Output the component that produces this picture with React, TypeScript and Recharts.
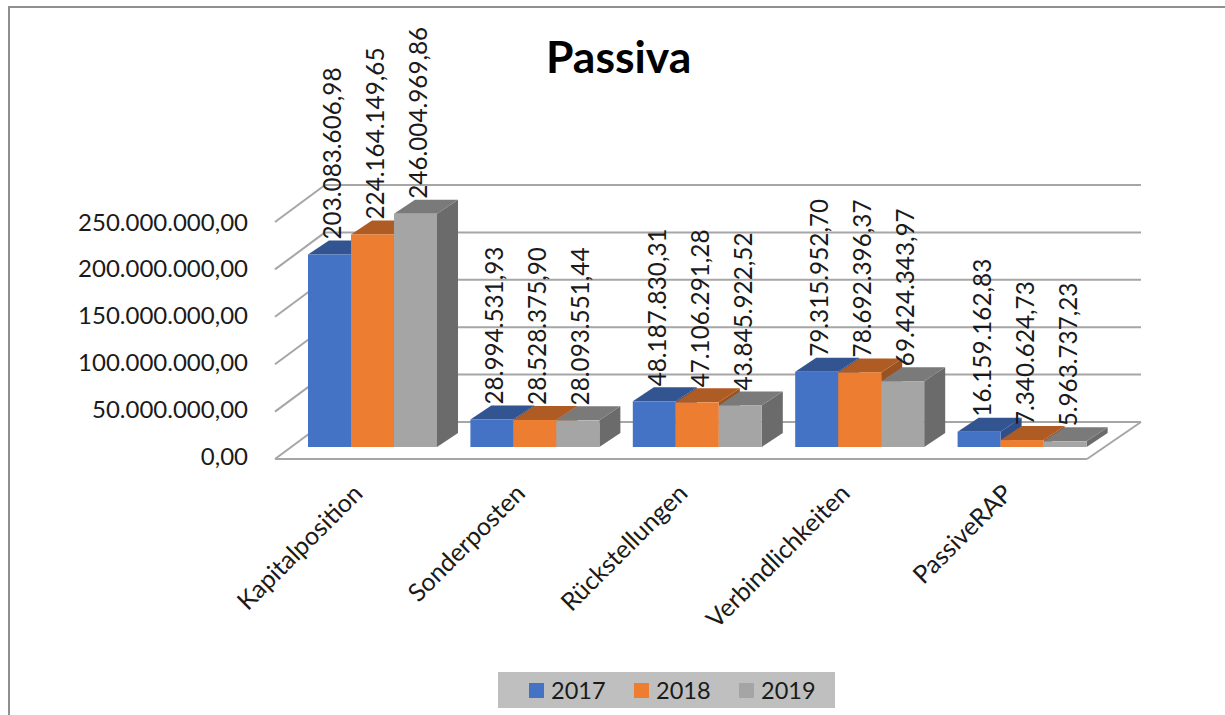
import React from 'react';
import { BarChart, Bar, XAxis, YAxis, CartesianGrid, Legend, LabelList } from 'recharts';

const categories = ['Kapitalposition', 'Sonderposten', 'Rückstellungen', 'Verbindlichkeiten', 'PassiveRAP'];
const values2017 = [203083606.98, 28994531.93, 48187830.31, 79315952.7, 16159162.83];
const values2018 = [224164149.65, 28528375.9, 47106291.28, 78692396.37, 7340624.73];
const values2019 = [246004969.86, 28093551.44, 43845922.52, 69424343.97, 5963737.23];
const yTicks = [0, 50000000, 100000000, 150000000, 200000000, 250000000];

const data = categories.map((name, i) => ({
  name,
  y2017: values2017[i],
  y2018: values2018[i],
  y2019: values2019[i],
}));

const FONT = 'Lato, sans-serif';
const TEXT = '#1a1a1a';
const GRID = '#a6a6a6';

// depth of the fake 3D bars
const DX = 21;
const DY = 14;

const money = (v: number) =>
  v.toLocaleString('de-DE', { minimumFractionDigits: 2, maximumFractionDigits: 2 });

const Bar3D = (colors: { front: string; top: string; side: string }) => (props: any) => {
  const { x, y, width, height } = props;
  return (
    <g>
      <polygon
        points={`${x + width},${y} ${x + width + DX},${y - DY} ${x + width + DX},${y + height - DY} ${x + width},${y + height}`}
        fill={colors.side}
      />
      <polygon
        points={`${x},${y} ${x + DX},${y - DY} ${x + width + DX},${y - DY} ${x + width},${y}`}
        fill={colors.top}
      />
      <rect x={x} y={y} width={width} height={height} fill={colors.front} />
    </g>
  );
};

const ValueLabel = (props: any) => {
  const { x, y, width, value } = props;
  const cx = x + width / 2 + 2;
  const cy = y - DY - 1;
  return (
    <text
      x={cx}
      y={cy}
      transform={`rotate(-90 ${cx} ${cy})`}
      dominantBaseline="central"
      fontFamily={FONT}
      fontSize={24.3}
      fill={TEXT}
    >
      {money(value)}
    </text>
  );
};

// back wall line plus the diagonal that runs to the front edge
const GridLine = (props: any) => {
  const { x1, x2, y1, index } = props;
  const left = x1 - 17;
  const back = y1 - 25;
  return (
    <g key={`grid-${index}`} stroke={GRID} strokeWidth={2} fill="none">
      <line x1={left} y1={y1 + 12} x2={left + 50} y2={back} />
      <line x1={left + 50} y1={back} x2={x2 + 37} y2={back} />
      {index === 0 && (
        <>
          <line x1={left} y1={y1 + 12} x2={x2 - 17} y2={y1 + 12} />
          <line x1={x2 - 17} y1={y1 + 12} x2={x2 + 37} y2={back} />
        </>
      )}
    </g>
  );
};

// the labels sit on the front edge, which is a bit more compressed than the bars
const YTick = (props: any) => {
  const { x, y, payload } = props;
  const labelY = 455 - (447 - y) * 0.9873;
  return (
    <text x={x} y={labelY} dominantBaseline="central" textAnchor="end" fontFamily={FONT} fontSize={24} fill={TEXT}>
      {money(payload.value)}
    </text>
  );
};

const XTick = (props: any) => {
  const { x, y, payload } = props;
  const tx = x - 9;
  const ty = y + 40;
  return (
    <text
      x={tx}
      y={ty}
      transform={`rotate(-45 ${tx} ${ty})`}
      textAnchor="end"
      fontFamily={FONT}
      fontSize={25}
      fill={TEXT}
    >
      {payload.value}
    </text>
  );
};

const LegendBox = ({ payload }: any) => (
  <div
    style={{
      background: '#bfbfbf',
      height: 36,
      display: 'flex',
      alignItems: 'center',
      paddingLeft: 31,
      fontFamily: FONT,
      fontSize: 23.5,
      color: TEXT,
    }}
  >
    {(payload || []).map((item: any) => (
      <div key={item.value} style={{ display: 'flex', alignItems: 'center', marginRight: 28.5 }}>
        <span style={{ width: 15, height: 15, background: item.color, marginRight: 7 }} />
        <span>{item.value}</span>
      </div>
    ))}
  </div>
);

export default function App() {
  return (
    <div style={{ position: 'absolute', left: 0, top: 0, width: 1225, height: 715, background: '#fff', overflow: 'hidden' }}>
      <div
        style={{
          position: 'absolute',
          left: 8,
          top: 6,
          width: 1300,
          height: 800,
          border: '2px solid #8f8f8f',
          boxSizing: 'border-box',
        }}
      />
      <div
        style={{
          position: 'absolute',
          left: 546,
          top: 31,
          fontFamily: FONT,
          fontWeight: 700,
          fontSize: 44.5,
          lineHeight: '50px',
          color: '#000',
        }}
      >
        Passiva
      </div>
      <BarChart
        width={1225}
        height={715}
        data={data}
        margin={{ top: 210, right: 121, bottom: 68, left: 0 }}
        barCategoryGap={16}
        barGap={0}
        style={{ position: 'absolute', left: 0, top: 0 }}
      >
        <CartesianGrid vertical={false} horizontal={GridLine} />
        <XAxis dataKey="name" height={200} axisLine={false} tickLine={false} tick={XTick} interval={0} />
        <YAxis
          width={292}
          domain={[0, 250000000]}
          ticks={yTicks}
          axisLine={false}
          tickLine={false}
          tick={(p: any) => <YTick {...p} x={248} />}
        />
        <Legend
          layout="horizontal"
          verticalAlign="middle"
          align="center"
          content={LegendBox}
          wrapperStyle={{ position: 'absolute', left: 498, top: 672, width: 337, height: 36, margin: 0 }}
        />
        <Bar
          dataKey="y2017"
          name="2017"
          fill="#4472C4"
          isAnimationActive={false}
          shape={Bar3D({ front: '#4472C4', top: '#325490', side: '#2e4f8a' })}
        >
          <LabelList dataKey="y2017" content={ValueLabel} />
        </Bar>
        <Bar
          dataKey="y2018"
          name="2018"
          fill="#ED7D31"
          isAnimationActive={false}
          shape={Bar3D({ front: '#ED7D31', top: '#AE5C24', side: '#9c5220' })}
        >
          <LabelList dataKey="y2018" content={ValueLabel} />
        </Bar>
        <Bar
          dataKey="y2019"
          name="2019"
          fill="#A5A5A5"
          isAnimationActive={false}
          shape={Bar3D({ front: '#A5A5A5', top: '#7a7a7a', side: '#6b6b6b' })}
        >
          <LabelList dataKey="y2019" content={ValueLabel} />
        </Bar>
      </BarChart>
    </div>
  );
}
